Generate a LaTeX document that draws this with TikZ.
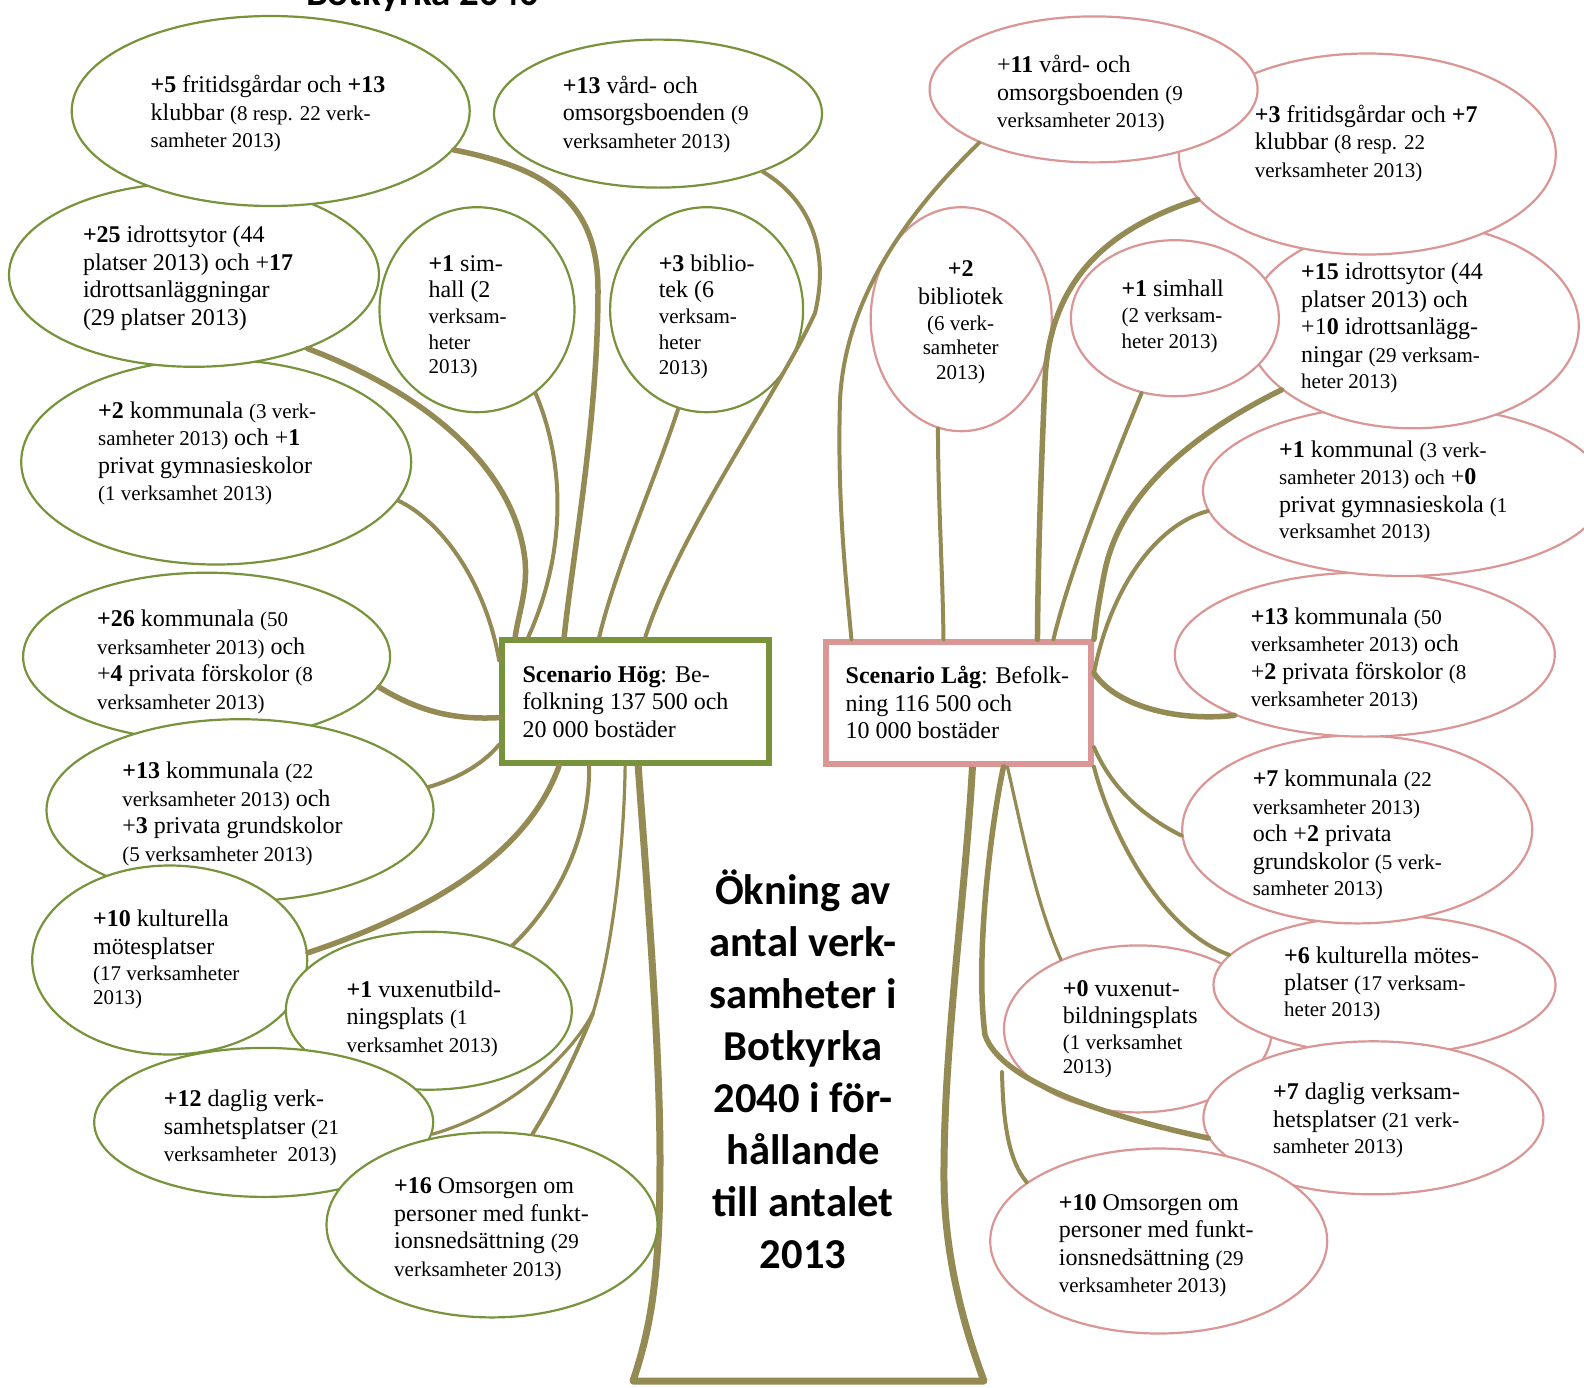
\documentclass[tikz,border=0pt]{standalone}
\usepackage{fontspec}
\setmainfont{Liberation Serif}
\newfontfamily\carl{Carlito}
\usetikzlibrary{shapes.geometric}
\definecolor{gr}{HTML}{77933C}
\definecolor{pk}{HTML}{D99694}
\definecolor{ol}{HTML}{948A54}
\newcommand\sm[1]{{\fontsize{21}{27.5}\selectfont #1}}
\tikzset{
  gell/.style={ellipse, draw=gr, line width=2.2pt, fill=white, inner sep=0pt},
  pell/.style={ellipse, draw=pk, line width=2.2pt, fill=white, inner sep=0pt},
  gbox/.style={rectangle, draw=gr, line width=5.5pt, fill=white, inner sep=0pt},
  pbox/.style={rectangle, draw=pk, line width=5.5pt, fill=white, inner sep=0pt},
  txt/.style={anchor=west, align=left, inner sep=0pt, font=\fontsize{24}{27.5}\selectfont},
  conn/.style={draw=ol, line width=4pt, line cap=round},
  connthick/.style={draw=ol, line width=5.5pt, line cap=round},
  connthin/.style={draw=ol, line width=3.2pt, line cap=round},
  trunk/.style={draw=ol, line width=7pt, line join=round},
}
\begin{document}
\begin{tikzpicture}[x=1pt,y=-1pt]
\useasboundingbox (0,0) rectangle (1584,1387);
\clip (0,0) rectangle (1584,1387);
\fill[white] (0,0) rectangle (1584,1387);

% top title (cut off in the original)
\node[anchor=base, inner sep=0pt, font=\carl\bfseries\fontsize{39}{47}\selectfont] (title) at (422.5,5) {Botkyrka 2040};

% ---------- boxes ----------
\node[gbox, minimum width=267pt, minimum height=123pt] (hog) at (635.4,701.6) {};
\node[pbox, minimum width=265pt, minimum height=122pt] (lag) at (958.7,703.1) {};

% ---------- trunk ----------
\draw[trunk] ([xshift=139pt]hog.south west) .. controls (648,900) and (660,1050) .. (660,1160)
  .. controls (660,1280) and (650,1330) .. (633,1381) -- (984,1381)
  .. controls (965,1330) and (945,1260) .. (944,1183)
  .. controls (943,1050) and (965,900) .. ([xshift=149pt]lag.south west);

% ---------- green ellipses (bottom first) ----------
\node[gell, minimum width=390pt, minimum height=205pt] (E6) at (216.2,462) {};
\node[gell, minimum width=370pt, minimum height=184pt] (E3) at (194,274.8) {};
\node[gell, minimum width=398pt, minimum height=190pt] (E1) at (270.7,111) {};
\node[gell, minimum width=328pt, minimum height=148pt] (E2) at (658,113.6) {};
\node[gell, minimum width=195pt, minimum height=205pt] (E4) at (477,309.7) {};
\node[gell, minimum width=193pt, minimum height=205pt] (E5) at (706.6,309.7) {};
\node[gell, minimum width=367pt, minimum height=168pt] (E7) at (206.6,656.7) {};
\node[gell, minimum width=387pt, minimum height=182pt] (E8) at (240,810.2) {};
\node[gell, minimum width=275pt, minimum height=189pt] (E9) at (169.7,960) {};
\node[gell, minimum width=286pt, minimum height=158pt] (E10) at (428.8,1010.7) {};
\node[gell, minimum width=339pt, minimum height=149pt] (E11) at (263.7,1122.4) {};
\node[gell, minimum width=331pt, minimum height=185pt] (E12) at (492,1224.9) {};

% ---------- pink ellipses (bottom first) ----------
\node[pell, minimum width=268pt, minimum height=167pt] (P10) at (1138,1028.9) {};
\node[pell, minimum width=342pt, minimum height=139pt] (P9) at (1384.5,985) {};
\node[pell, minimum width=350pt, minimum height=188pt] (P8) at (1357.2,829.4) {};
\node[pell, minimum width=380pt, minimum height=164pt] (P7) at (1364.8,654.6) {};
\node[pell, minimum width=402pt, minimum height=171pt] (P6) at (1404,490.5) {};
\node[pell, minimum width=332pt, minimum height=205pt] (P5) at (1412.8,325.8) {};
\node[pell, minimum width=377pt, minimum height=201pt] (P2) at (1367.3,154) {};
\node[pell, minimum width=328pt, minimum height=146pt] (P1) at (1093.6,89.4) {};
\node[pell, minimum width=208pt, minimum height=156pt] (P4) at (1174.9,318.2) {};
\node[pell, minimum width=181pt, minimum height=224pt] (P3) at (961.2,319.2) {};
\node[pell, minimum width=340pt, minimum height=153pt] (P11) at (1373.4,1117.8) {};
\node[pell, minimum width=337pt, minimum height=185pt] (P12) at (1158.7,1241) {};

% ---------- connectors, Hog ----------
\coordinate (M) at (593,1013);
\coordinate (lfree) at (1002,1072);
\draw[connthick] (E1.-12) .. controls (545,168) and (598,200) .. (598,290)
  .. controls (598,420) and (572,560) .. ([xshift=65pt]hog.north west);
\draw[conn] (E2.-29) .. controls (810,200) and (830,250) .. (815,313)
  .. controls (780,390) and (680,530) .. ([xshift=146pt]hog.north west);
\draw[conn] (E4.-55) .. controls (560,450) and (572,540) .. ([xshift=29pt]hog.north west);
\draw[conn] (E5.-106) .. controls (655,480) and (615,570) .. ([xshift=100pt]hog.north west);
\draw[connthick] (E3.-33) .. controls (430,395) and (515,470) .. (525,560)
  .. controls (528,590) and (518,615) .. ([xshift=16pt]hog.north west);
\draw[conn] (E6.-12) .. controls (440,520) and (485,580) .. ([yshift=-23pt]hog.north west);
\draw[connthick] (E7.-10) .. controls (420,712) and (455,720) .. ([yshift=-16pt]hog.west);
\draw[conn] (E8.7) .. controls (460,778) and (485,762) .. ([yshift=-43pt]hog.west);
\draw[connthick] (E9.3) .. controls (420,915) and (525,860) .. ([xshift=60pt]hog.south west);
\draw[conn] (E10.38) .. controls (555,905) and (590,840) .. ([xshift=90pt]hog.south west);
\draw[connthin] (E11.-4) .. controls (500,1115) and (565,1065) .. (M)
  .. controls (612,950) and (624,850) .. ([xshift=126pt]hog.south west);
\draw[conn] (E12.66) .. controls (560,1090) and (580,1045) .. (M);

% ---------- connectors, Lag ----------
\draw[conn] (P1.205) .. controls (905,215) and (845,300) .. (840,400)
  .. controls (837,500) and (846,580) .. ([xshift=28pt]lag.north west);
\draw[conn] (P3.-102) .. controls (938,500) and (943,580) .. ([xshift=120pt]lag.north west);
\draw[connthick] (P2.195) .. controls (1120,225) and (1050,270) .. (1045,380)
  .. controls (1041,470) and (1038,560) .. ([xshift=214pt]lag.north west);
\draw[conn] (P4.-114) .. controls (1110,470) and (1070,570) .. ([xshift=230pt]lag.north west);
\draw[connthick] (P5.206) .. controls (1180,440) and (1120,500) .. (1105,570)
  .. controls (1099,600) and (1096,620) .. (lag.north east);
\draw[conn] (P6.186) .. controls (1155,525) and (1110,590) .. ([yshift=30pt]lag.east);
\draw[connthick] (P7.205) .. controls (1175,722) and (1115,705) .. ([yshift=30pt]lag.east);
\draw[conn] (P8.182) .. controls (1140,815) and (1110,785) .. ([yshift=-44pt]lag.east);
\draw[conn] (lag.south east) .. controls (1110,830) and (1160,930) .. (P9.169);
\draw[connthin] ([xshift=184pt]lag.south west) .. controls (1022,830) and (1035,900) .. (P10.138);
\draw[connthick] ([xshift=180pt]lag.south west) .. controls (990,830) and (975,960) .. (985,1035)
  .. controls (1000,1080) and (1100,1115) .. (P11.187);
\draw[conn] (lfree) .. controls (1003,1120) and (1008,1160) .. (P12.156);

% ---------- texts, Hog ----------
\node[txt] (tE1) at (150.5,114) {\textbf{+5} fritidsgårdar och \textbf{+13}\\klubbar \sm{(8 resp. 22 verk-}\\\sm{samheter 2013)}};
\node[txt] (tE2) at (562.7,114.4) {\textbf{+13} vård- och\\omsorgsboenden \sm{(9}\\\sm{verksamheter 2013)}};
\node[txt] (tE3) at (82.8,278) {\textbf{+25} idrottsytor (44\\platser 2013) och +\textbf{17}\\idrottsanläggningar\\(29 platser 2013)};
\node[txt] (tE4) at (428.3,317) {\textbf{+1} sim-\\[-1.5pt]hall (2\\[-1.5pt]\sm{verksam-}\\[-1.5pt]\sm{heter}\\[-3pt]\sm{2013)}};
\node[txt] (tE5) at (658.6,317) {\textbf{+3} biblio-\\[-1.5pt]tek (6\\[-1.5pt]\sm{verksam-}\\[-1.5pt]\sm{heter}\\[-3pt]\sm{2013)}};
\node[txt] (tE6) at (98,453.6) {\textbf{+2} kommunala \sm{(3 verk-}\\\sm{samheter 2013)} och +\textbf{1}\\privat gymnasieskolor\\\sm{(1 verksamhet 2013)}};
\node[txt] (tE7) at (97,661.8) {\textbf{+26} kommunala \sm{(50}\\\sm{verksamheter 2013)} och\\+\textbf{4} privata förskolor \sm{(8}\\\sm{verksamheter 2013)}};
\node[txt] (tE8) at (122.2,813.7) {\textbf{+13} kommunala \sm{(22}\\\sm{verksamheter 2013)} och\\+\textbf{3} privata grundskolor\\\sm{(5 verksamheter 2013)}};
\node[txt] (tE9) at (92.9,959.7) {\textbf{+10} kulturella\\mötesplatser\\[-1.5pt]\sm{(17 verksamheter}\\[-3pt]\sm{2013)}};
\node[txt] (tE10) at (346.5,1018.8) {\textbf{+1} vuxenutbild-\\ningsplats \sm{(1}\\\sm{verksamhet 2013)}};
\node[txt] (tE11) at (163.7,1127.9) {\textbf{+12} daglig verk-\\samhetsplatser \sm{(21}\\\sm{verksamheter\ \ 2013)}};
\node[txt] (tE12) at (394,1229.4) {\textbf{+16} Omsorgen om\\personer med funkt-\\ionsnedsättning \sm{(29}\\\sm{verksamheter 2013)}};
\node[txt] (thog) at (522.3,701.5) {\textbf{Scenario Hög}: Be-\\folkning 137 500 och\\20 000 bostäder};

% ---------- texts, Lag ----------
\node[txt] (tP1) at (997,93.6) {+\textbf{11} vård- och\\omsorgsboenden \sm{(9}\\\sm{verksamheter 2013)}};
\node[txt] (tP2) at (1254.7,143.4) {\textbf{+3} fritidsgårdar och \textbf{+7}\\klubbar \sm{(8 resp. 22}\\\sm{verksamheter 2013)}};
\node[txt, anchor=center, align=center] (tP3) at (960.7,322.2) {\textbf{+2}\\bibliotek\\[-1.5pt]\sm{(6 verk-}\\[-3pt]\sm{samheter}\\[-3pt]\sm{2013)}};
\node[txt] (tP4) at (1121.3,316.5) {\textbf{+1} simhall\\[-1.5pt]\sm{(2 verksam-}\\[-1.5pt]\sm{heter 2013)}};
\node[txt] (tP5) at (1301,327.8) {\textbf{+15} idrottsytor (44\\platser 2013) och\\+1\textbf{0} idrottsanlägg-\\ningar \sm{(29 verksam-}\\[-1.5pt]\sm{heter 2013)}};
\node[txt] (tP6) at (1279,491.4) {\textbf{+1} kommunal \sm{(3 verk-}\\\sm{samheter 2013) och} +\textbf{0}\\privat gymnasieskola \sm{(1}\\[-1.5pt]\sm{verksamhet 2013)}};
\node[txt] (tP7) at (1250.6,659.4) {\textbf{+13} kommunala \sm{(50}\\\sm{verksamheter 2013)} och\\+\textbf{2} privata förskolor \sm{(8}\\\sm{verksamheter 2013)}};
\node[txt] (tP8) at (1252.6,834.9) {\textbf{+7} kommunala \sm{(22}\\\sm{verksamheter 2013)}\\och +\textbf{2} privata\\grundskolor \sm{(5 verk-}\\[-1.5pt]\sm{samheter 2013)}};
\node[txt] (tP9) at (1284,983.9) {\textbf{+6} kulturella mötes-\\platser \sm{(17 verksam-}\\[-1.5pt]\sm{heter 2013)}};
\node[txt] (tP10) at (1062.7,1029.4) {\textbf{+0} vuxenut-\\bildningsplats\\[-2pt]\sm{(1 verksamhet}\\[-3pt]\sm{2013)}};
\node[txt] (tP11) at (1272.9,1120.3) {\textbf{+7} daglig verksam-\\hetsplatser \sm{(21 verk-}\\[-1.5pt]\sm{samheter 2013)}};
\node[txt] (tP12) at (1058.7,1245.5) {\textbf{+10} Omsorgen om\\personer med funkt-\\ionsnedsättning \sm{(29}\\\sm{verksamheter 2013)}};
\node[txt] (tlag) at (845.5,702.8) {\textbf{Scenario Låg}: Befolk-\\ning 116 500 och\\10 000 bostäder};

% ---------- centre text ----------
\node[anchor=center, align=center, inner sep=0pt, font=\carl\bfseries\fontsize{42.6}{52}\selectfont] (center) at (803,1069)
  {Ökning av\\antal verk-\\samheter i\\Botkyrka\\2040 i för-\\hållande\\till antalet\\2013};
\end{tikzpicture}
\end{document}
